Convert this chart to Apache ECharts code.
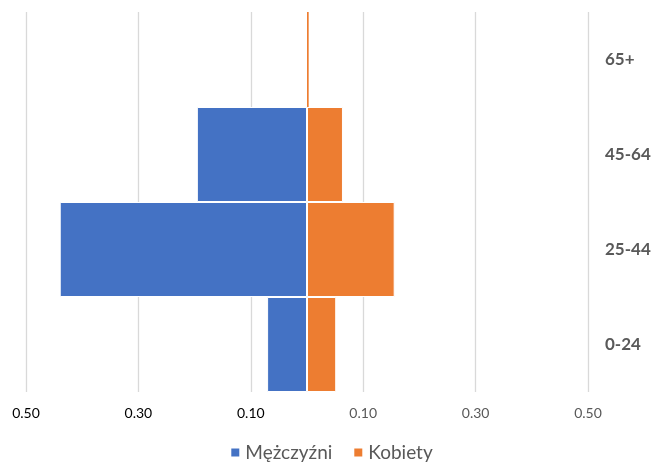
<!DOCTYPE html>
<html>
<head>
<meta charset="utf-8">
<script src="https://cdn.jsdelivr.net/npm/echarts@6/dist/echarts.min.js"></script>
<style>html,body{margin:0;padding:0;background:#fff}#c{width:662px;height:467px}</style>
</head>
<body>
<div id="c"></div>
<script>
const categories = ['0-24', '25-44', '45-64', '65+'];
const men = [0.071, 0.44, 0.196, 0.0];
const women = [0.052, 0.156, 0.064, 0.003];
const seriesNames = ['Mężczyźni', 'Kobiety'];

function build(values, sign) {
  return values.map(v => {
    const item = { value: sign * v };
    if (v < 0.01) item.itemStyle = { borderWidth: 0 };
    return item;
  });
}

const chart = echarts.init(document.getElementById('c'));
chart.setOption({
  animation: false,
  textStyle: { fontFamily: 'Lato' },
  grid: { left: 26, right: 74, top: 12, bottom: 75, containLabel: false },
  legend: {
    data: seriesNames,
    bottom: 0,
    left: 'center',
    icon: 'rect',
    itemWidth: 10,
    itemHeight: 10,
    itemGap: 20,
    textStyle: { fontSize: 19, color: '#595959', fontFamily: 'Lato' }
  },
  xAxis: {
    type: 'value',
    min: -0.5,
    max: 0.5,
    interval: 0.2,
    axisLine: { show: false },
    axisTick: { show: false },
    splitLine: { lineStyle: { color: '#d9d9d9', width: 1.3 } },
    axisLabel: {
      margin: 14,
      formatter: v => (v < 0 ? '{n|' : '{p|') + Math.abs(v).toFixed(2) + '}',
      rich: {
        n: { color: '#000', fontSize: 14, fontFamily: 'Lato' },
        p: { color: '#595959', fontSize: 14, fontFamily: 'Lato' }
      }
    }
  },
  yAxis: {
    type: 'category',
    data: categories,
    position: 'right',
    axisLine: { show: false },
    axisTick: { show: false },
    axisLabel: { margin: 17, color: '#595959', fontSize: 17, fontWeight: 'bold', fontFamily: 'Lato' }
  },
  series: [
    {
      name: seriesNames[0], type: 'bar', stack: 'all',
      barCategoryGap: 0,
      data: build(men, -1),
      itemStyle: { color: '#4472C4', borderColor: '#fff', borderWidth: 1 }
    },
    {
      name: seriesNames[1], type: 'bar', stack: 'all',
      barCategoryGap: 0,
      data: build(women, 1),
      itemStyle: { color: '#ED7D31', borderColor: '#fff', borderWidth: 1 }
    }
  ]
});
</script>
</body>
</html>
